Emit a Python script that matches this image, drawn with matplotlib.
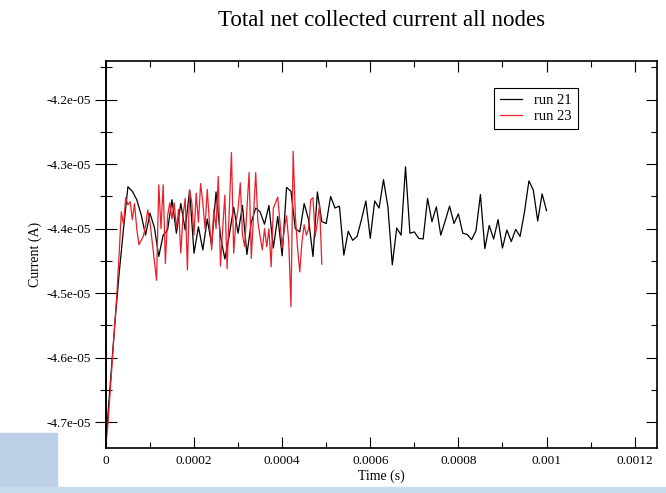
import matplotlib
matplotlib.use("Agg")
import matplotlib.pyplot as plt
from matplotlib.ticker import MultipleLocator, FuncFormatter, NullFormatter
from matplotlib.patches import Rectangle
import numpy as np

# run 21: one sample every 1e-5 s, current in units of 1e-5 A
run21_dt = 1e-5
run21_cur = [
    -4.730, -4.640, -4.550, -4.470, -4.400, -4.335, -4.342, -4.355, -4.378, -4.410,
    -4.376, -4.398, -4.443, -4.410, -4.402, -4.355, -4.407, -4.361, -4.402, -4.340,
    -4.438, -4.397, -4.433, -4.385, -4.425, -4.343, -4.411, -4.447, -4.410, -4.367,
    -4.407, -4.364, -4.440, -4.390, -4.368, -4.374, -4.393, -4.364, -4.430, -4.381,
    -4.442, -4.336, -4.342, -4.400, -4.405, -4.361, -4.386, -4.443, -4.343, -4.389,
    -4.392, -4.350, -4.368, -4.365, -4.441, -4.404, -4.418, -4.412, -4.386, -4.357,
    -4.415, -4.357, -4.368, -4.324, -4.366, -4.456, -4.399, -4.410, -4.304, -4.407,
    -4.405, -4.415, -4.416, -4.353, -4.389, -4.366, -4.410, -4.388, -4.365, -4.392,
    -4.377, -4.407, -4.409, -4.417, -4.403, -4.347, -4.431, -4.395, -4.416, -4.386,
    -4.430, -4.402, -4.420, -4.401, -4.412, -4.374, -4.326, -4.340, -4.388, -4.346,
    -4.372,
]

# run 23: one sample every 5e-6 s
run23_dt = 5e-6
run23_cur = [
    -4.735, -4.700, -4.650, -4.600, -4.550, -4.500, -4.440, -4.374, -4.394, -4.352,
    -4.363, -4.358, -4.386, -4.361, -4.400, -4.425, -4.418, -4.412, -4.395, -4.371,
    -4.390, -4.420, -4.450, -4.480, -4.332, -4.400, -4.332, -4.454, -4.380, -4.360,
    -4.385, -4.360, -4.400, -4.370, -4.438, -4.380, -4.353, -4.464, -4.340, -4.360,
    -4.410, -4.345, -4.390, -4.330, -4.360, -4.400, -4.339, -4.390, -4.433, -4.370,
    -4.400, -4.319, -4.458, -4.400, -4.348, -4.462, -4.370, -4.282, -4.438, -4.390,
    -4.370, -4.329, -4.410, -4.428, -4.370, -4.313, -4.446, -4.380, -4.313, -4.390,
    -4.412, -4.433, -4.400, -4.428, -4.400, -4.459, -4.368, -4.360, -4.351, -4.390,
    -4.430, -4.400, -4.380, -4.420, -4.521, -4.280, -4.380, -4.430, -4.467, -4.420,
    -4.394, -4.410, -4.400, -4.355, -4.352, -4.412, -4.390, -4.363, -4.455,
]

legend_labels = ["run 21", "run 23"]
title = "Total net collected current all nodes"
x_label = "Time (s)"
y_label = "Current (A)"

plt.rcParams['font.family'] = ['Liberation Serif', 'DejaVu Serif']
plt.rcParams['axes.unicode_minus'] = False

fig = plt.figure(figsize=(6.66, 4.93), dpi=100)

# bits of the slide background showing in the corner
fig.add_artist(Rectangle((0, 0), 57 / 666, 60 / 493, transform=fig.transFigure,
                         color='#bcd1e8', zorder=-10))
fig.add_artist(Rectangle((0, 0), 1, 6 / 493, transform=fig.transFigure,
                         color='#c8daee', zorder=-10))

ax = fig.add_axes([0.159, 0.0913, 0.827, 0.785])

t21 = np.arange(len(run21_cur)) * run21_dt
t23 = np.arange(len(run23_cur)) * run23_dt
ax.plot(t21, np.array(run21_cur) * 1e-5, color='black', lw=0.9, label=legend_labels[0])
ax.plot(t23, np.array(run23_cur) * 1e-5, color='#e8202a', lw=0.9, label=legend_labels[1])

ax.set_xlim(0, 0.00125)
ax.set_ylim(-4.74e-5, -4.14e-5)

ax.xaxis.set_major_locator(MultipleLocator(0.0002))
ax.xaxis.set_minor_locator(MultipleLocator(0.0001))
ax.xaxis.set_major_formatter(FuncFormatter(lambda v, p: "%g" % v))
ax.yaxis.set_major_locator(MultipleLocator(1e-6))
ax.yaxis.set_minor_locator(MultipleLocator(5e-7))
ax.yaxis.set_major_formatter(NullFormatter())

ax.tick_params(which='both', direction='in', top=True, right=True, width=0.8)
ax.tick_params(which='major', length=8)
ax.tick_params(which='minor', length=4.3)
ax.tick_params(axis='x', labelsize=9.5, pad=5)
ax.tick_params(axis='y', labelleft=False)

for s in ax.spines.values():
    s.set_linewidth(1.2)

# left axis also has ticks poking out, with the labels
sec = ax.secondary_yaxis('left')
sec.yaxis.set_major_locator(MultipleLocator(1e-6))
sec.yaxis.set_minor_locator(MultipleLocator(5e-7))
sec.yaxis.set_major_formatter(FuncFormatter(lambda v, p: f"{v:.1e}"))
sec.tick_params(which='both', direction='out', width=0.8, labelsize=9.5, pad=3)
sec.tick_params(which='major', length=8)
sec.tick_params(which='minor', length=4.3)
sec.spines['left'].set_linewidth(1.2)
sec.set_ylabel(y_label, fontsize=10, labelpad=3)

ax.set_xlabel(x_label, fontsize=10, labelpad=2)

fig.text(381.5 / 666, 1 - 21 / 493, title, ha='center', va='center', fontsize=16.5)

leg = ax.legend(loc='upper right', bbox_to_anchor=(0.857, 0.930), borderaxespad=0,
                fontsize=10.5, frameon=True, fancybox=False, framealpha=1,
                edgecolor='black', handlelength=1.5, handletextpad=0.85,
                labelspacing=0.2, borderpad=0.4)
leg.get_frame().set_linewidth(0.8)

fig.savefig("out.png", dpi=100)
